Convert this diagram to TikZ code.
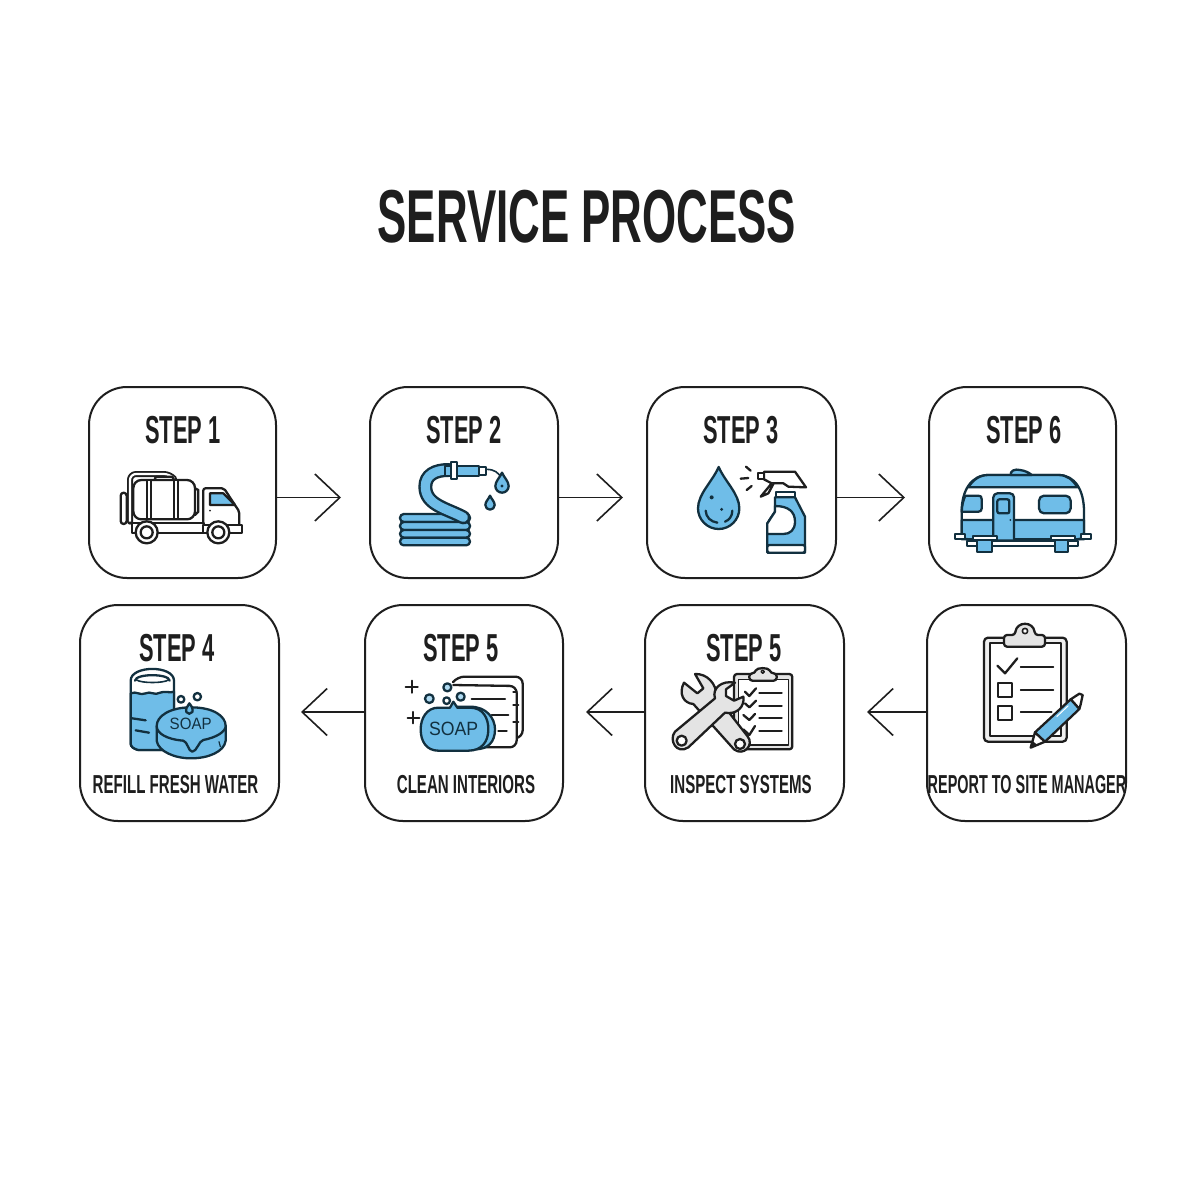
\documentclass[tikz,border=0pt]{standalone}
\usepackage{fontspec}
\usetikzlibrary{arrows.meta}
\setmainfont{Liberation Sans}
\newfontfamily\titlefont[FakeStretch=0.585]{Liberation Sans Bold}
\newfontfamily\stepfont[FakeStretch=0.56]{Liberation Sans Bold}
\newfontfamily\capfont[FakeStretch=0.58]{Liberation Sans Bold}
\newfontfamily\widecapfont[FakeStretch=0.555]{Liberation Sans Bold}
\newfontfamily\soapfont[FakeStretch=0.92]{Liberation Sans}
\definecolor{ink}{HTML}{1E1E1E}
\definecolor{navy}{HTML}{12303F}
\definecolor{sky}{HTML}{6FBDE8}
\definecolor{pale}{HTML}{E4E4E4}
\newcommand\tear[4][]{%
  \draw[#1] ({#2},{#3-2*#4}) .. controls ({#2+.3*#4},{#3-1.3*#4}) and ({#2+#4},{#3-.7*#4}) .. ({#2+#4},{#3})
   .. controls ({#2+#4},{#3+.55*#4}) and ({#2+.55*#4},{#3+#4}) .. ({#2},{#3+#4})
   .. controls ({#2-.55*#4},{#3+#4}) and ({#2-#4},{#3+.55*#4}) .. ({#2-#4},{#3})
   .. controls ({#2-#4},{#3-.7*#4}) and ({#2-.3*#4},{#3-1.3*#4}) .. cycle;}
\tikzset{
  card/.style 2 args={draw=ink,line width=1pt,rounded corners=19pt,fill=white,minimum width=#1*.5pt,minimum height=#2*.5pt,inner sep=0pt},
  titlelabel/.style={inner sep=0pt,text=ink,font=\titlefont\fontsize{37.5}{40}\selectfont,text height=26.5pt,text depth=0pt},
  steplabel/.style={inner sep=0pt,text=ink,font=\stepfont\fontsize{19.5}{22}\selectfont,text height=14pt,text depth=0pt},
  caplabel/.style={inner sep=0pt,text=ink,font=\capfont\fontsize{13}{15}\selectfont,text height=9.3pt,text depth=0pt},
  widecaplabel/.style={inner sep=0pt,text=ink,font=\widecapfont\fontsize{13}{15}\selectfont,text height=9.3pt,text depth=0pt},
  soaplabel/.style={inner sep=0pt,text=navy,font=\soapfont\fontsize{#1}{10}\selectfont},
  flow/.style={draw=ink,line width=.8pt,-{Straight Barb[length=12.5pt,width=23.5pt,line width=.8pt]}},
  zm/.style 2 args={shift={(#1,#2)},x=.16667pt,y=-.16667pt},
  ic/.style={draw=ink,line width=1.15pt,line join=round,line cap=round},
  nv/.style={draw=navy,line width=1.15pt,line join=round,line cap=round},
}
\begin{document}
\begin{tikzpicture}[x=.5pt,y=-.5pt]
\useasboundingbox (0,0) rectangle (1200,1200);
\fill[white] (0,0) rectangle (1200,1200);
\node[titlelabel] (title) at (587,216) {SERVICE PROCESS};
% cards
\node[card={187}{191}] (c1) at (182.5,482.5) {};
\node[card={188}{191}] (c2) at (464,482.5) {};
\node[card={189}{191}] (c3) at (741.5,482.5) {};
\node[card={187}{191}] (c6) at (1022.5,482.5) {};
\node[card={199}{216}] (c4) at (179.5,713) {};
\node[card={198}{216}] (c5) at (464,713) {};
\node[card={199}{216}] (c7) at (744.5,713) {};
\node[card={199}{216}] (c8) at (1026.5,713) {};
% arrows
\coordinate (t1) at (341,497.5);
\coordinate (t2) at (623,497.5);
\coordinate (t3) at (905,497.5);
\coordinate (t4) at (867,712);
\coordinate (t5) at (586,712);
\coordinate (t6) at (301,712);
\draw[flow] (c1.east |- t1) -- (t1);
\draw[flow] (c2.east |- t2) -- (t2);
\draw[flow] (c3.east |- t3) -- (t3);
\draw[flow] (c8.west |- t4) -- (t4);
\draw[flow] (c7.west |- t5) -- (t5);
\draw[flow] (c5.west |- t6) -- (t6);
% labels
\node[steplabel] (s1) at (183,429) {STEP 1};
\node[steplabel] (s2) at (464,429) {STEP 2};
\node[steplabel] (s3) at (741,429) {STEP 3};
\node[steplabel] (s6) at (1024,429) {STEP 6};
\node[steplabel] (s4) at (177,647) {STEP 4};
\node[steplabel] (s5) at (461,647) {STEP 5};
\node[steplabel] (s7) at (744,647) {STEP 5};
\node[caplabel] (l4) at (175.5,784) {REFILL FRESH WATER};
\node[caplabel] (l5) at (466,784) {CLEAN INTERIORS};
\node[caplabel] (l7) at (741,784) {INSPECT SYSTEMS};
\node[widecaplabel] (l8) at (1027,784) {REPORT TO SITE MANAGER};
% truck
\begin{scope}[zm={80}{380}]
\draw[ic,fill=white,rounded corners=1.5pt] (122,338) rectangle (140,432);
\draw[ic,line width=3pt,rounded corners=3pt] (150,425) -- (150,282) -- (270,282) -- (282,296);
\draw[white,line width=1.1pt,rounded corners=3pt] (150,425) -- (150,282) -- (270,282) -- (282,296);
\draw[ic,fill=white,rounded corners=1pt] (225,290) rectangle (280,302);
\draw[ic,fill=white,rounded corners=4pt] (160,300) rectangle (345,418);
\draw[ic] (345,325) -- (355,330) -- (355,395) -- (345,405);
\foreach \q in {208,288}{\draw[ic,fill=white] (\q-6,300) rectangle (\q+6,418);}
\draw[ic,fill=white,rounded corners=1pt] (370,325) -- (432,325) -- (478,395) -- (478,440) -- (370,440) -- cycle;
\draw[ic,fill=sky] (390,340) -- (430,340) -- (465,375) -- (390,375) -- cycle;
\draw[ic,fill=white] (155,428) rectangle (372,458);
\draw[ic,fill=white] (370,434) rectangle (485,458);
\fill[ink] (390,392) circle (3);
\foreach \q in {200,415}{\draw[ic,fill=white] (\q,457) circle (33);\draw[ic,fill=white] (\q,457) circle (18);}
\end{scope}
% hose
\begin{scope}[zm={360}{380}]
\foreach \a/\b in {402/426,426/450,450/473,473/496}{\draw[nv,fill=sky,rounded corners=1.9pt] (120,\a) rectangle (330,\b);}
\draw[navy,line width=7pt,line cap=round] (310,412) .. controls (260,385) and (196,375) .. (196,320) .. controls (196,285) and (225,270) .. (265,270);
\draw[sky,line width=4.6pt,line cap=round] (310,412) .. controls (260,385) and (196,375) .. (196,320) .. controls (196,285) and (225,270) .. (265,270);
\draw[nv,fill=sky] (256,258) rectangle (292,288);
\draw[nv,fill=sky] (292,258) rectangle (358,288);
\draw[nv,fill=white] (272,245) rectangle (292,298);
\draw[nv,fill=white] (358,260) rectangle (378,285);
\draw[nv,line width=.8pt] (378,268) .. controls (405,268) and (415,278) .. (425,295);
\tear[nv,fill=sky]{426}{318}{20}
\fill[navy] (426,318) circle (5);
\tear[nv,fill=sky]{390}{375}{14}
\end{scope}
% drop and spray bottle
\begin{scope}[zm={640}{380}]
\tear[nv,fill=sky]{236}{385}{62}
\fill[navy] (215,352) circle (6);
\fill[navy] (245,388) circle (5);
\draw[nv] (197,392) .. controls (198,412) and (212,425) .. (232,428);
\draw[nv] (255,425) .. controls (268,420) and (277,408) .. (277,392);
\draw[ic] (318,260) -- (332,272) (302,296) -- (325,294) (320,330) -- (335,318);
\draw[nv,fill=sky] (405,352) -- (465,352) -- (495,410) -- (495,518) -- (382,518) -- (382,430) -- (405,395) -- cycle;
\draw[nv,fill=white] (405,378) .. controls (445,378) and (465,395) .. (465,425) .. controls (465,450) and (450,462) .. (430,462) -- (382,462) -- (382,430) -- (405,395) -- cycle;
\draw[nv,fill=white,rounded corners=1pt] (382,495) rectangle (495,518);
\draw[nv,fill=white] (408,335) rectangle (465,352);
\draw[ic,fill=white] (372,275) -- (465,275) -- (498,322) -- (445,320) -- (430,310) -- (395,310) -- (372,298) -- cycle;
\draw[ic,fill=white] (355,278) rectangle (372,298);
\draw[ic,fill=white] (395,310) -- (362,350) -- (385,340) -- (400,312);
\end{scope}
% trailer
\begin{scope}[zm={920}{440}]
\draw[nv,fill=white] (125,298) -- (125,215) .. controls (125,150) and (155,105) .. (205,105) -- (415,105) .. controls (465,105) and (492,150) .. (492,215) -- (492,298) -- cycle;
\draw[nv,fill=sky] (145,142) .. controls (160,118) and (180,105) .. (205,105) -- (415,105) .. controls (440,105) and (458,118) .. (472,142) -- cycle;
\draw[nv,fill=sky] (125,240) -- (492,240) -- (492,275) .. controls (492,290) and (485,298) .. (470,298) -- (145,298) .. controls (132,298) and (125,290) .. (125,275) -- cycle;
\draw[nv,fill=sky] (272,105) .. controls (270,92) and (285,86) .. (300,90) .. controls (315,92) and (328,98) .. (335,105) -- cycle;
\draw[nv,fill=sky] (125,215) -- (175,215) .. controls (182,215) and (185,212) .. (185,205) -- (185,177) .. controls (185,170) and (182,167) .. (175,167) -- (136,167) .. controls (130,180) and (126,195) .. (125,215) -- cycle;
\draw[nv,fill=sky,rounded corners=2.5pt] (357,167) rectangle (452,220);
\draw[nv,fill=sky,rounded corners=2pt] (220,298) -- (220,160) -- (282,160) -- (282,298);
\draw[nv,fill=sky,rounded corners=1pt] (232,178) rectangle (268,220);
\fill[navy] (271,240) circle (3);
\draw[nv,fill=white] (105,282) rectangle (135,298);
\draw[nv,fill=white] (482,282) rectangle (512,298);
\draw[nv,fill=white] (140,303) rectangle (475,318);
\draw[nv,fill=sky] (172,300) rectangle (215,335);
\draw[nv,fill=sky] (405,300) rectangle (445,335);
\draw[nv,fill=white] (160,288) rectangle (232,300);
\draw[nv,fill=white] (392,288) rectangle (465,300);
\end{scope}
% tank and soap
\begin{scope}[zm={75}{650}]
\draw[nv,fill=white] (167,92) .. controls (167,45) and (297,45) .. (297,92) -- (297,300) -- (190,300) .. controls (175,296) and (167,290) .. (167,280) -- cycle;
\draw[nv,fill=sky] (167,130) .. controls (185,122) and (195,138) .. (212,130) .. controls (225,122) and (240,138) .. (255,128) .. controls (270,122) and (285,130) .. (297,125) -- (297,300) -- (190,300) .. controls (175,296) and (167,290) .. (167,280) -- cycle;
\draw[nv] (180,92) .. controls (182,70) and (282,70) .. (284,92);
\draw[nv,line width=.8pt] (185,90) .. controls (200,100) and (265,100) .. (280,90);
\draw[nv] (172,205) -- (212,211) (182,241) -- (222,248);
\draw[nv] (318,148) circle (10) (367,140) circle (11);
\draw[nv,fill=sky] (245,228) -- (245,272) .. controls (250,305) and (300,325) .. (348,325) .. controls (400,325) and (448,305) .. (452,272) -- (452,228) -- cycle;
\draw[nv,fill=sky] (348,172) .. controls (415,172) and (452,198) .. (452,228) .. controls (452,245) and (425,262) .. (385,270) .. controls (372,272) and (365,305) .. (352,305) .. controls (340,305) and (338,275) .. (325,272) .. controls (275,268) and (245,250) .. (245,228) .. controls (245,198) and (285,172) .. (348,172) -- cycle;
\draw[nv,fill=sky] (343,160) .. controls (350,168) and (355,178) .. (352,186) .. controls (348,193) and (337,193) .. (334,186) .. controls (331,178) and (337,168) .. (343,160) -- cycle;
\node[soaplabel=8.2] (soapa) at (347,222) {SOAP};
\draw[nv,line width=.6pt] (432,275) -- (436,290);
\end{scope}
% soap and cloths
\begin{scope}[zm={370}{660}]
\draw[ic,fill=white,rounded corners=3.5pt] (250,65) -- (262,50) -- (458,50) -- (458,232) -- (425,236);
\draw[ic,fill=white,rounded corners=3.5pt] (250,75) -- (440,78) -- (440,262) -- (340,262);
\draw[ic] (305,118) -- (405,118) (365,165) -- (415,165) (385,212) -- (410,212) (430,135) -- (445,135) (430,185) -- (445,185) (430,95) -- (440,95);
\draw[nv,fill=sky] (300,140) .. controls (350,140) and (375,175) .. (375,208) .. controls (375,245) and (355,268) .. (315,268) -- (250,268) -- (250,140) -- cycle;
\draw[nv,fill=sky] (205,143) -- (240,143) -- (250,125) -- (262,143) -- (300,143) .. controls (340,143) and (355,175) .. (355,208) .. controls (355,245) and (335,272) .. (295,272) -- (205,272) .. controls (170,272) and (152,245) .. (152,208) .. controls (152,175) and (170,143) .. (205,143) -- cycle;
\node[soaplabel=9.6] (soapb) at (251,208) {SOAP};
\draw[nv,fill=sky!55] (232,82) circle (12) (178,116) circle (13) (272,110) circle (12);
\draw[nv,fill=white] (230,122) circle (10);
\draw[ic] (107,80) -- (143,80) (125,62) -- (125,98) (113,173) -- (148,173) (130,156) -- (130,190);
\end{scope}
% tools and clipboard
\begin{scope}[zm={660}{660}]
\draw[ic,fill=pale,rounded corners=1.5pt] (222,42) rectangle (397,268);
\draw[ic,fill=white,line width=.8pt] (235,58) rectangle (385,255);
\draw[ic,fill=pale,rounded corners=1.5pt] (268,40) -- (285,40) .. controls (290,22) and (326,22) .. (332,40) -- (350,40) -- (350,62) -- (268,62) -- cycle;
\draw[ic,line width=.7pt] (308,35) circle (5);
\draw[ic] (298,100) -- (365,100) (298,138) -- (365,138) (298,175) -- (365,175) (298,212) -- (365,212);
\draw[ic] (255,95) -- (268,108) -- (288,85) (255,130) -- (268,142) -- (288,122) (250,165) -- (268,180) -- (285,162) (250,208) -- (268,225) -- (285,198);
\draw[ic,fill=pale] (105,42) .. controls (140,40) and (170,70) .. (170,110) -- (262,228) .. controls (285,255) and (250,290) .. (222,268) -- (100,132) .. controls (70,130) and (55,100) .. (72,68) -- (112,100) -- (130,85) -- cycle;
\draw[ic,fill=white] (240,252) circle (15);
\draw[ic,fill=pale] (225,68) .. controls (185,60) and (155,85) .. (165,115) -- (45,215) .. controls (25,240) and (50,285) .. (85,262) -- (195,158) .. controls (230,165) and (255,140) .. (250,110) -- (222,122) -- (198,108) -- (198,88) -- cycle;
\draw[ic,fill=white] (65,242) circle (15);
\end{scope}
% checklist and pen
\begin{scope}[zm={960}{615}]
\draw[ic,fill=pale!60,rounded corners=2pt] (72,68) rectangle (320,380);
\draw[ic,fill=white,line width=.9pt] (90,85) rectangle (302,362);
\draw[ic,fill=pale,rounded corners=1.5pt] (132,60) -- (165,60) .. controls (170,18) and (220,18) .. (225,60) -- (255,60) -- (255,95) -- (132,95) -- cycle;
\draw[ic,fill=white,line width=.8pt] (195,48) circle (8);
\draw[ic] (112,152) -- (135,175) -- (172,130);
\draw[ic,line width=.9pt] (182,157) -- (280,157) (182,224) -- (280,224) (182,292) -- (275,292);
\draw[ic] (113,203) rectangle (157,245) (113,272) rectangle (157,315);
\draw[ic,fill=white] (225,352) -- (212,398) -- (255,380) -- cycle;
\fill[ink] (212,398) -- (218,378) -- (232,390) -- cycle;
\draw[ic,fill=white] (332,253) -- (358,236) -- (368,240) -- (362,268) -- (358,282) -- cycle;
\draw[ic,fill=sky] (225,352) -- (332,253) -- (358,282) -- (255,380) -- cycle;
\draw[white,line width=.5pt] (290,305) -- (325,272);
\end{scope}
\end{tikzpicture}
\end{document}
